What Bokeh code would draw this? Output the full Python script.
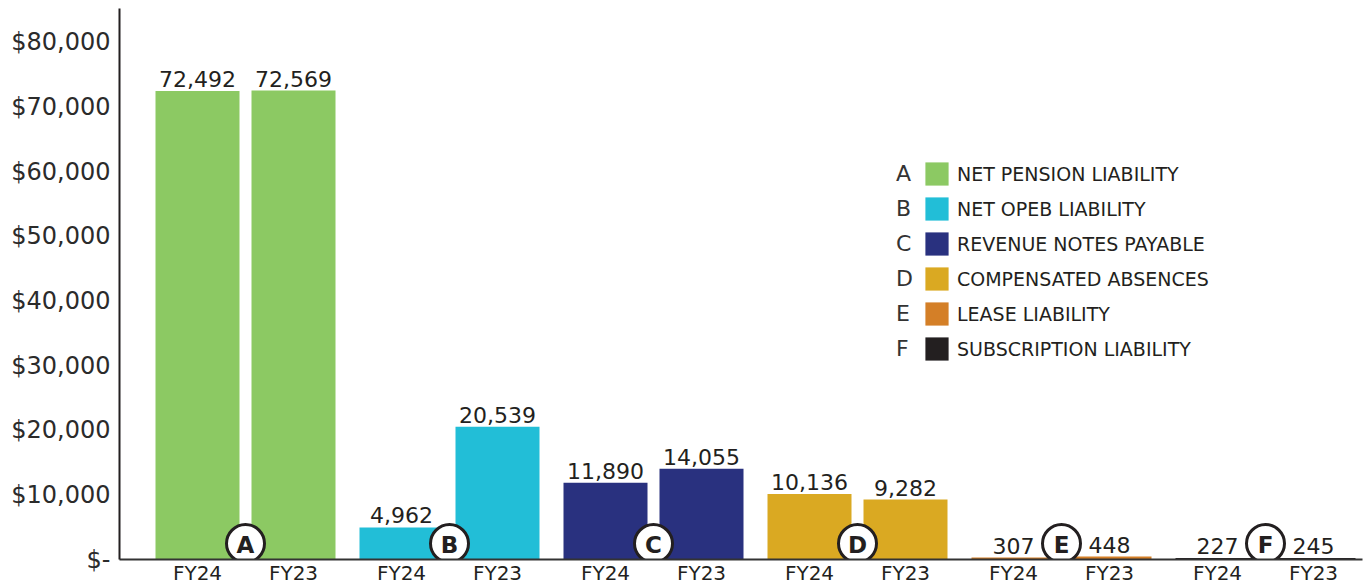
from bokeh.plotting import figure
from bokeh.models import (ColumnDataSource, Range1d, FixedTicker, CustomJSTickFormatter,
                          Legend, LegendItem)
from bokeh.core.properties import value
from bokeh.embed import file_html
from bokeh.resources import INLINE

# ---------------- data ----------------
letters = ["A", "B", "C", "D", "E", "F"]
categories = ["NET PENSION LIABILITY", "NET OPEB LIABILITY", "REVENUE NOTES PAYABLE",
              "COMPENSATED ABSENCES", "LEASE LIABILITY", "SUBSCRIPTION LIABILITY"]
years = ["FY24", "FY23"]
fy24 = [72492, 4962, 11890, 10136, 307, 227]
fy23 = [72569, 20539, 14055, 9282, 448, 245]
colors = ["#8CC963", "#22BED7", "#29317F", "#DAA922", "#D47F27", "#231F20"]
y_ticks = [0, 10000, 20000, 30000, 40000, 50000, 60000, 70000, 80000]

# ---------------- layout constants ----------------
W, H = 1367, 587
BORDER_L, BORDER_R, BORDER_T, BORDER_B = 119, 5, 8, 28
SLOT = 96             # pixels per bar slot
GROUP_PITCH = 2.125   # in bar-slot units
BAR_W = 0.875
Y_END = 85260
TXT = "#231F20"

xs, vals, cols, labs = [], [], [], []
for g in range(len(letters)):
    for j, v in enumerate([fy24[g], fy23[g]]):
        xs.append(g * GROUP_PITCH + j)
        vals.append(v)
        cols.append(colors[g])
        labs.append(f"{v:,}")
src = ColumnDataSource(dict(x=xs, top=vals, color=cols, label=labs))

frame_h = H - BORDER_B - BORDER_T
px = Y_END / frame_h  # data units per pixel
centers = [g * GROUP_PITCH + 0.5 for g in range(len(letters))]
circ = ColumnDataSource(dict(x=centers, y=[16 * px] * len(letters), t=letters))

x0 = -0.8125
p = figure(width=W, height=H, output_backend="svg", toolbar_location=None,
           x_range=Range1d(x0, x0 + (W - BORDER_L - BORDER_R) / SLOT),
           y_range=Range1d(0, Y_END),
           min_border_left=BORDER_L, min_border_right=BORDER_R, min_border_top=BORDER_T,
           min_border_bottom=BORDER_B)
p.outline_line_color = None
p.grid.grid_line_color = None
p.background_fill_color = "white"

bars = p.vbar(x="x", top="top", width=BAR_W, color="color", line_color=None, source=src)
p.text(x="x", y="top", text="label", source=src, text_align="center",
       text_baseline="alphabetic", y_offset=-12, text_font=value("DejaVu Sans"),
       text_font_size="22px", text_color=TXT)

p.scatter(x="x", y="y", source=circ, size=38, fill_color="white", line_color=TXT,
          line_width=3)
p.text(x="x", y="y", text="t", source=circ, text_align="center", text_baseline="middle",
       text_font=value("DejaVu Sans"), text_font_style="bold", text_font_size="23px",
       text_color=TXT, y_offset=1)

# axes
p.xaxis.ticker = FixedTicker(ticks=xs)
p.xaxis.formatter = CustomJSTickFormatter(args=dict(years=years),
                                          code="return years[index % years.length];")
p.xaxis.major_label_text_font = "DejaVu Sans"
p.xaxis.major_label_text_font_size = "20px"
p.xaxis.major_label_text_color = TXT
p.xaxis.major_label_standoff = 1
p.xaxis.axis_line_color = "#333333"
p.xaxis.axis_line_width = 2

p.yaxis.ticker = FixedTicker(ticks=y_ticks)
p.yaxis.formatter = CustomJSTickFormatter(
    code='return tick == 0 ? "$-" : "$" + tick.toLocaleString("en-US");')
p.yaxis.major_label_text_font = "DejaVu Sans"
p.yaxis.major_label_text_font_size = "24px"
p.yaxis.major_label_text_color = "#2b2b2b"
p.yaxis.major_label_standoff = 9
p.yaxis.axis_line_color = TXT
p.yaxis.axis_line_width = 2

for ax in (p.xaxis, p.yaxis):
    ax.major_tick_line_color = None
    ax.minor_tick_line_color = None
    ax.major_tick_out = 0
    ax.major_tick_in = 0
    ax.minor_tick_out = 0
    ax.minor_tick_in = 0

# legend
items = [LegendItem(label=categories[i], renderers=[bars], index=2 * i)
         for i in range(len(categories))]
leg = Legend(items=items, location=(803, 196), glyph_width=29, glyph_height=29,
             spacing=6, label_standoff=6, padding=0, margin=0,
             border_line_alpha=0, background_fill_alpha=0,
             label_text_font="DejaVu Sans", label_text_font_size="19px",
             label_text_color=TXT, label_text_baseline="middle")
p.add_layout(leg)

litems = [LegendItem(label=letters[i], renderers=[bars], index=2 * i)
          for i in range(len(letters))]
leg2 = Legend(items=litems, location=(777, 196), glyph_width=0, glyph_height=29,
              spacing=6, label_standoff=0, padding=0, margin=0,
              border_line_alpha=0, background_fill_alpha=0,
              label_text_font="DejaVu Sans", label_text_font_size="22px",
              label_text_color="#333333", label_text_baseline="middle")
p.add_layout(leg2)

open("out.html", "w").write(file_html(p, INLINE))
